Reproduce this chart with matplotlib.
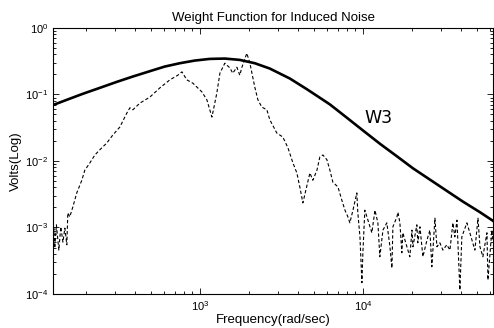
import numpy as np
import matplotlib
matplotlib.use("Agg")
import matplotlib.pyplot as plt

plt.rcParams['font.family'] = ['Liberation Sans', 'DejaVu Sans']

# W3 weight function (log10 of rad/sec, log10 of volts)
w3_freq_exp = [2.098, 2.184, 2.282, 2.387, 2.491, 2.589, 2.693, 2.785, 2.877,
               2.969, 3.061, 3.153, 3.245, 3.337, 3.429, 3.552, 3.656, 3.755,
               3.798, 3.902, 4.0, 4.104, 4.209, 4.307, 4.411, 4.515, 4.613,
               4.718, 4.798]
w3_mag_exp = [-1.16, -1.08, -0.99, -0.90, -0.81, -0.73, -0.65, -0.58, -0.53,
              -0.49, -0.465, -0.46, -0.48, -0.53, -0.61, -0.76, -0.92, -1.08,
              -1.15, -1.35, -1.54, -1.74, -1.93, -2.11, -2.28, -2.45, -2.61,
              -2.77, -2.90]

# measured induced noise spectrum
noise_freq_exp = [2.098, 2.104, 2.11, 2.12, 2.135, 2.147, 2.16, 2.172, 2.184,
                  2.19, 2.202, 2.221, 2.245, 2.276, 2.294, 2.325, 2.356, 2.387,
                  2.429, 2.466, 2.509, 2.552, 2.571, 2.589, 2.632, 2.693, 2.755,
                  2.816, 2.865, 2.89, 2.92, 2.957, 3.012, 3.043, 3.074, 3.104,
                  3.123, 3.153, 3.184, 3.202, 3.227, 3.245, 3.258, 3.288, 3.307,
                  3.337, 3.356, 3.38, 3.411, 3.429, 3.472, 3.509, 3.54, 3.571,
                  3.595, 3.613, 3.632, 3.65, 3.675, 3.693, 3.718, 3.736, 3.755,
                  3.779, 3.798, 3.816, 3.847, 3.871, 3.89, 3.908, 3.92, 3.939,
                  3.963, 3.969, 3.982, 3.994, 4.0, 4.012, 4.031, 4.055, 4.074,
                  4.092, 4.104, 4.123, 4.147, 4.166, 4.178, 4.184, 4.209, 4.215,
                  4.227, 4.239, 4.245, 4.27, 4.288, 4.301, 4.307, 4.331, 4.337,
                  4.35, 4.368, 4.393, 4.411, 4.423, 4.442, 4.454, 4.472, 4.491,
                  4.515, 4.534, 4.552, 4.564, 4.577, 4.595, 4.607, 4.638, 4.656,
                  4.687, 4.706, 4.718, 4.736, 4.761, 4.767, 4.791, 4.798]
noise_mag_exp = [-3.49, -2.99, -3.31, -2.96, -3.34, -2.99, -3.22, -3.01, -3.26,
                 -2.78, -2.84, -2.69, -2.48, -2.29, -2.14, -2.03, -1.91, -1.83,
                 -1.73, -1.61, -1.49, -1.28, -1.20, -1.23, -1.13, -1.04, -0.90,
                 -0.78, -0.71, -0.66, -0.78, -0.83, -0.96, -1.08, -1.34, -0.98,
                 -0.68, -0.53, -0.60, -0.68, -0.59, -0.71, -0.59, -0.38, -0.53,
                 -0.89, -1.08, -1.19, -1.23, -1.38, -1.58, -1.64, -1.80, -2.03,
                 -2.18, -2.39, -2.63, -2.44, -2.18, -2.29, -2.14, -1.94, -1.91,
                 -1.98, -2.14, -2.32, -2.39, -2.59, -2.74, -2.84, -2.93, -2.74,
                 -2.48, -2.78, -3.14, -3.83, -3.38, -2.74, -2.89, -3.08, -2.74,
                 -2.93, -3.44, -3.04, -2.93, -3.29, -3.61, -2.99, -2.84, -2.77,
                 -2.93, -3.38, -3.08, -3.29, -3.44, -3.04, -3.29, -2.96, -3.23,
                 -2.99, -3.44, -3.19, -3.04, -3.59, -2.86, -3.29, -3.23, -3.34,
                 -3.26, -3.34, -2.93, -3.14, -2.89, -3.94, -3.14, -2.93, -3.08,
                 -3.34, -2.86, -3.29, -3.44, -3.08, -3.79, -3.04, -3.19]

w3_freq = 10 ** np.array(w3_freq_exp)
w3_mag = 10 ** np.array(w3_mag_exp)
noise_freq = 10 ** np.array(noise_freq_exp)
noise_mag = 10 ** np.array(noise_mag_exp)

fig = plt.figure(figsize=(4.94, 3.28), dpi=100)
ax = fig.add_axes([0.1073, 0.1037, 0.8907, 0.811])

ax.loglog(noise_freq, noise_mag, color='black', lw=0.8, ls=(0, (3, 2)))
ax.loglog(w3_freq, w3_mag, color='black', lw=1.9)

ax.set_xlim(2 * np.pi * 20, 2 * np.pi * 10000)
ax.set_ylim(1e-4, 1e0)

ax.text(1.24e4, 0.045, 'W3', fontsize=12.5, ha='center', va='center',
        family=['Liberation Sans Narrow', 'DejaVu Sans'])

ax.set_title('Weight Function for Induced Noise', fontsize=9.5, pad=5)
ax.set_xlabel('Frequency(rad/sec)', fontsize=9.5, labelpad=1)
ax.set_ylabel('Volts(Log)', fontsize=9.5, labelpad=2)

ax.tick_params(which='both', direction='in', top=True, right=True,
               labelsize=8, width=0.6)
ax.tick_params(which='major', length=4)
ax.tick_params(which='minor', length=2)
for s in ax.spines.values():
    s.set_linewidth(0.8)

fig.savefig('out.png', dpi=100)
